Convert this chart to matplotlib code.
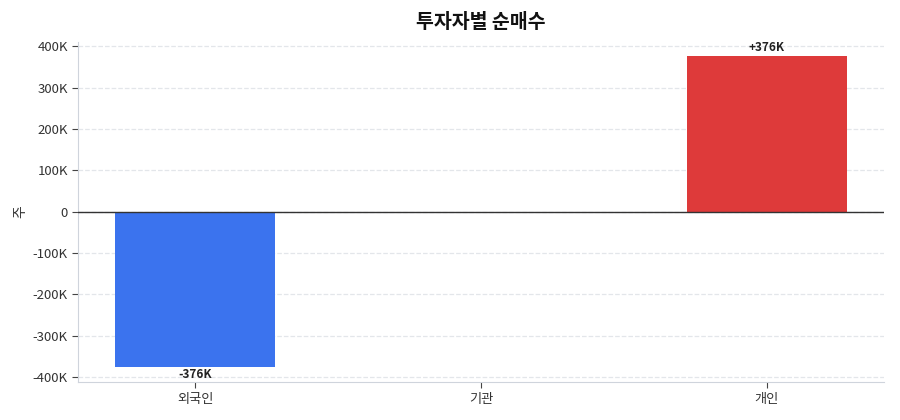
import matplotlib
matplotlib.use('Agg')
import matplotlib.pyplot as plt
from matplotlib.ticker import FuncFormatter

plt.rcParams['font.family'] = ['Noto Sans CJK KR', 'DejaVu Sans']

# 투자자별 순매수 (주)
investors = ['외국인', '기관', '개인']
net_buy = [-376000, 0, 376000]
bar_colors = ['#3b73ee', '#3b73ee', '#de3a3a']
labels = ['-376K', '', '+376K']
y_ticks = [-400000, -300000, -200000, -100000, 0, 100000, 200000, 300000, 400000]


def fmt_k(v, pos):
    if v == 0:
        return '0'
    return f'{v / 1000:.0f}K'


fig, ax = plt.subplots(figsize=(9, 4.2), dpi=100)
fig.subplots_adjust(left=0.087, right=0.982, top=0.9, bottom=0.09)

x = range(len(investors))
bars = ax.bar(x, net_buy, width=0.56, color=bar_colors, zorder=2)

for b, v, lab in zip(bars, net_buy, labels):
    if not lab:
        continue
    if v >= 0:
        ax.text(b.get_x() + b.get_width() / 2, v + 4000, lab, ha='center', va='bottom',
                fontsize=8.5, fontweight='bold', color='#222222')
    else:
        ax.text(b.get_x() + b.get_width() / 2, v - 2000, lab, ha='center', va='top',
                fontsize=8.5, fontweight='bold', color='#222222')

ax.axhline(0, color='#333333', linewidth=1, zorder=3)
ax.set_xticks(list(x))
ax.set_xticklabels(investors)
ax.set_yticks(y_ticks)
ax.yaxis.set_major_formatter(FuncFormatter(fmt_k))
ax.set_xlim(-0.41, 2.41)
ax.set_ylim(-412000, 410000)
ax.grid(axis='y', linestyle='--', color='#e3e6ea', linewidth=0.9, zorder=0)

for s in ['top', 'right']:
    ax.spines[s].set_visible(False)
for s in ['left', 'bottom']:
    ax.spines[s].set_color('#cfd4dc')

ax.tick_params(axis='both', colors='#444444', labelsize=9.5, length=4)
ax.tick_params(axis='both', labelcolor='#333333')
ax.set_ylabel('주', fontsize=10, color='#333333')
ax.set_title('투자자별 순매수', fontsize=14, fontweight='bold', color='#111111', pad=10)

fig.savefig('out.png', dpi=100)
